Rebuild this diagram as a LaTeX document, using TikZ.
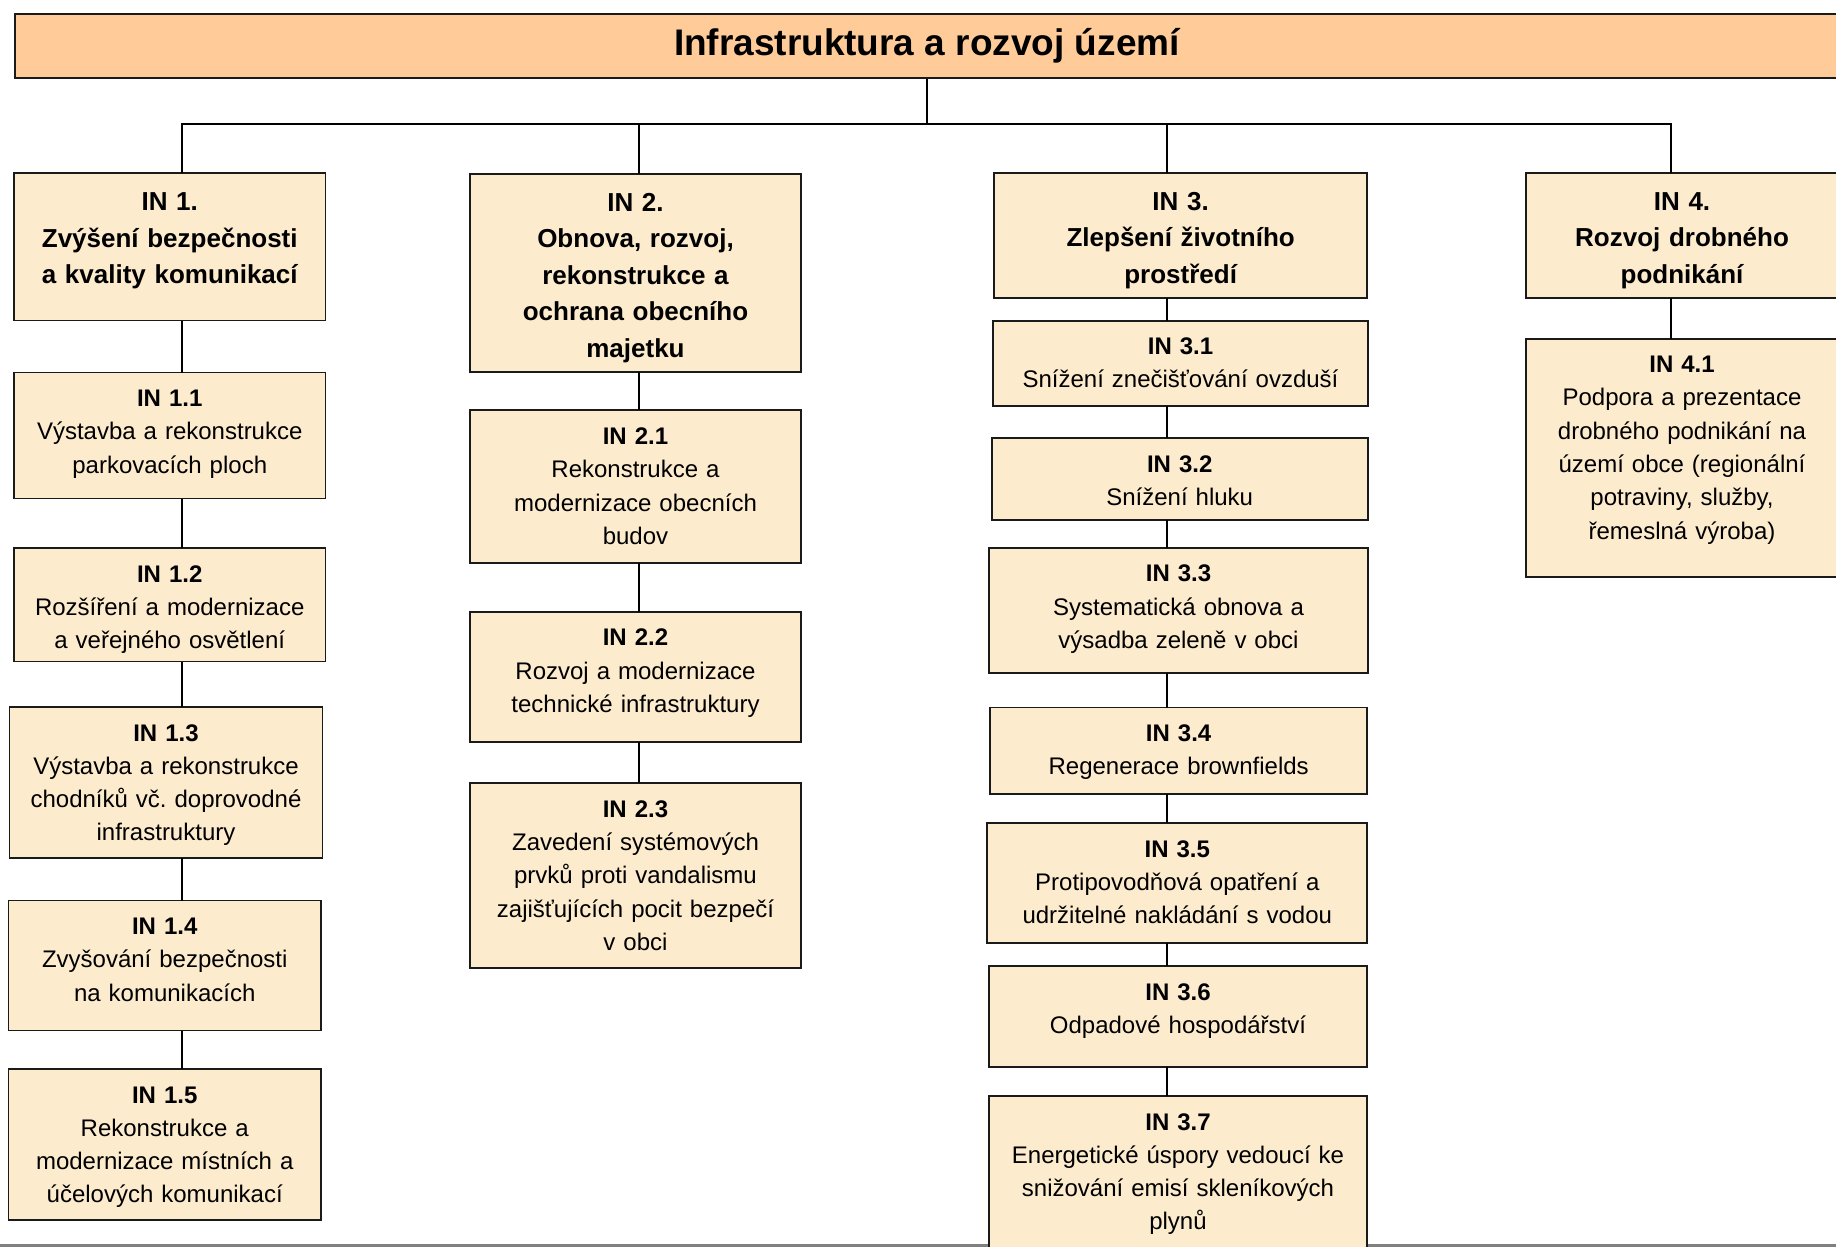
\documentclass[tikz,border=0pt]{standalone}
\usepackage{fontspec}
\setmainfont{Liberation Sans}
\frenchspacing
\definecolor{boxfill}{RGB}{252,235,205}
\definecolor{titlefill}{RGB}{255,204,153}
\definecolor{linec}{RGB}{26,26,26}
\definecolor{baseline}{RGB}{128,128,128}
\tikzset{
  box/.style={draw=linec, line width=1.8pt, fill=boxfill, rectangle, inner sep=0pt, outer sep=0pt, anchor=north west},
  hd/.style={font=\fontsize{26}{36.5}\selectfont\bfseries\frenchspacing, align=center, text width=440pt, inner sep=0pt, anchor=base, text=black},
  sb/.style={font=\fontsize{24}{33.3}\selectfont\frenchspacing, align=center, text width=440pt, inner sep=0pt, anchor=base, text=black},
  conn/.style={line width=1.7pt, draw=black},
}
% name, x1, y1, x2, y2, text style, baseline offset, text
\newcommand\ibox[8]{%
  \node[box, minimum width={#4-#2}, minimum height={#5-#3}] (#1) at (#2,#3) {};
  \node[#6] (#1t) at ([yshift=-#7pt]#1.north) {#8};
}
\newcommand\hb[1]{\textbf{#1}}
\begin{document}
\begin{tikzpicture}[x=1pt,y=-1pt]
\useasboundingbox (0,0) rectangle (1836,1247);
\clip (0,0) rectangle (1836,1247);
\fill[white] (0,0) rectangle (1836,1247);

% bottom grey rule
\draw[line width=3pt, draw=baseline] (0,1245.5) -- (1836,1245.5);

% title
\node[draw=linec, line width=1.8pt, fill=titlefill, rectangle, inner sep=0pt,
      anchor=north west, minimum width=1824, minimum height=64,
      font=\fontsize{37}{44}\selectfont\bfseries] (title) at (14,13) {\raisebox{-1.5pt}{Infrastruktura a rozvoj území}};

% column x positions
\coordinate (k1) at (182,0);
\coordinate (k2) at (639,0);
\coordinate (k3) at (1167,0);
\coordinate (k4) at (1671,0);
\coordinate (bary) at (0,124);

% column 1
\ibox{b1}{14}{173}{325.5}{320.5}{hd}{37.5}{IN 1.\\Zvýšení bezpečnosti\\a kvality komunikací}
\ibox{b11}{14}{372.5}{325.5}{498.5}{sb}{34}{\hb{IN 1.1}\\Výstavba a rekonstrukce\\parkovacích ploch}
\ibox{b12}{14}{548}{325.5}{661.5}{sb}{34}{\hb{IN 1.2}\\Rozšíření a modernizace\\a veřejného osvětlení}
\ibox{b13}{9.5}{707}{322.5}{858}{sb}{34}{\hb{IN 1.3}\\Výstavba a rekonstrukce\\chodníků vč. doprovodné\\infrastruktury}
\ibox{b14}{8.5}{900.5}{321}{1030.5}{sb}{34}{\hb{IN 1.4}\\Zvyšování bezpečnosti\\na komunikacích}
\ibox{b15}{8.5}{1069}{321}{1220}{sb}{34}{\hb{IN 1.5}\\Rekonstrukce a\\modernizace místních a\\účelových komunikací}

% column 2
\ibox{b2}{470}{174}{801}{372.3}{hd}{37}{IN 2.\\Obnova, rozvoj,\\rekonstrukce a\\ochrana obecního\\majetku}
\ibox{b21}{470}{410}{801}{563}{sb}{34.5}{\hb{IN 2.1}\\Rekonstrukce a\\modernizace obecních\\budov}
\ibox{b22}{470}{611.7}{801}{741.7}{sb}{34}{\hb{IN 2.2}\\Rozvoj a modernizace\\technické infrastruktury}
\ibox{b23}{470}{783.3}{801}{968.3}{sb}{34}{\hb{IN 2.3}\\Zavedení systémových\\prvků proti vandalismu\\zajišťujících pocit bezpečí\\v obci}

% column 3
\ibox{b3}{994}{172.7}{1367.3}{298.3}{hd}{37.5}{IN 3.\\Zlepšení životního\\prostředí}
\ibox{b31}{993.3}{321}{1367.7}{406}{sb}{33.5}{\hb{IN 3.1}\\Snížení znečišťování ovzduší}
\ibox{b32}{991.7}{438.3}{1367.7}{520}{sb}{34}{\hb{IN 3.2}\\Snížení hluku}
\ibox{b33}{988.7}{547.7}{1368.3}{673.3}{sb}{34}{\hb{IN 3.3}\\Systematická obnova a\\výsadba zeleně v obci}
\ibox{b34}{990}{707.5}{1367.3}{794}{sb}{34}{\hb{IN 3.4}\\Regenerace brownfields}
\ibox{b35}{987.3}{823}{1367.3}{942.6}{sb}{34}{\hb{IN 3.5}\\Protipovodňová opatření a\\udržitelné nakládání s vodou}
\ibox{b36}{989}{966}{1367}{1066.7}{sb}{34}{\hb{IN 3.6}\\Odpadové hospodářství}
\ibox{b37}{989}{1096}{1367}{1262}{sb}{34}{\hb{IN 3.7}\\Energetické úspory vedoucí ke\\snižování emisí skleníkových\\plynů}

% column 4
\ibox{b4}{1526}{172.7}{1838}{298.3}{hd}{37.5}{IN 4.\\Rozvoj drobného\\podnikání}
\ibox{b41}{1526}{339}{1838}{576.7}{sb}{33.5}{\hb{IN 4.1}\\Podpora a prezentace\\drobného podnikání na\\území obce (regionální\\potraviny, služby,\\řemeslná výroba)}

% connectors: title to columns
\draw[conn] (title.south) -- (title.south |- bary);
\draw[conn] (b1.north -| k1) -- (k1 |- bary) -- (k4 |- bary) -- (b4.north -| k4);
\draw[conn] (k2 |- bary) -- (b2.north -| k2);
\draw[conn] (k3 |- bary) -- (b3.north -| k3);

% column 1 chain
\draw[conn] (b1.south -| k1) -- (b11.north -| k1);
\draw[conn] (b11.south -| k1) -- (b12.north -| k1);
\draw[conn] (b12.south -| k1) -- (b13.north -| k1);
\draw[conn] (b13.south -| k1) -- (b14.north -| k1);
\draw[conn] (b14.south -| k1) -- (b15.north -| k1);

% column 2 chain
\draw[conn] (b2.south -| k2) -- (b21.north -| k2);
\draw[conn] (b21.south -| k2) -- (b22.north -| k2);
\draw[conn] (b22.south -| k2) -- (b23.north -| k2);

% column 3 chain
\draw[conn] (b3.south -| k3) -- (b31.north -| k3);
\draw[conn] (b31.south -| k3) -- (b32.north -| k3);
\draw[conn] (b32.south -| k3) -- (b33.north -| k3);
\draw[conn] (b33.south -| k3) -- (b34.north -| k3);
\draw[conn] (b34.south -| k3) -- (b35.north -| k3);
\draw[conn] (b35.south -| k3) -- (b36.north -| k3);
\draw[conn] (b36.south -| k3) -- (b37.north -| k3);

% column 4 chain
\draw[conn] (b4.south -| k4) -- (b41.north -| k4);
\end{tikzpicture}
\end{document}
